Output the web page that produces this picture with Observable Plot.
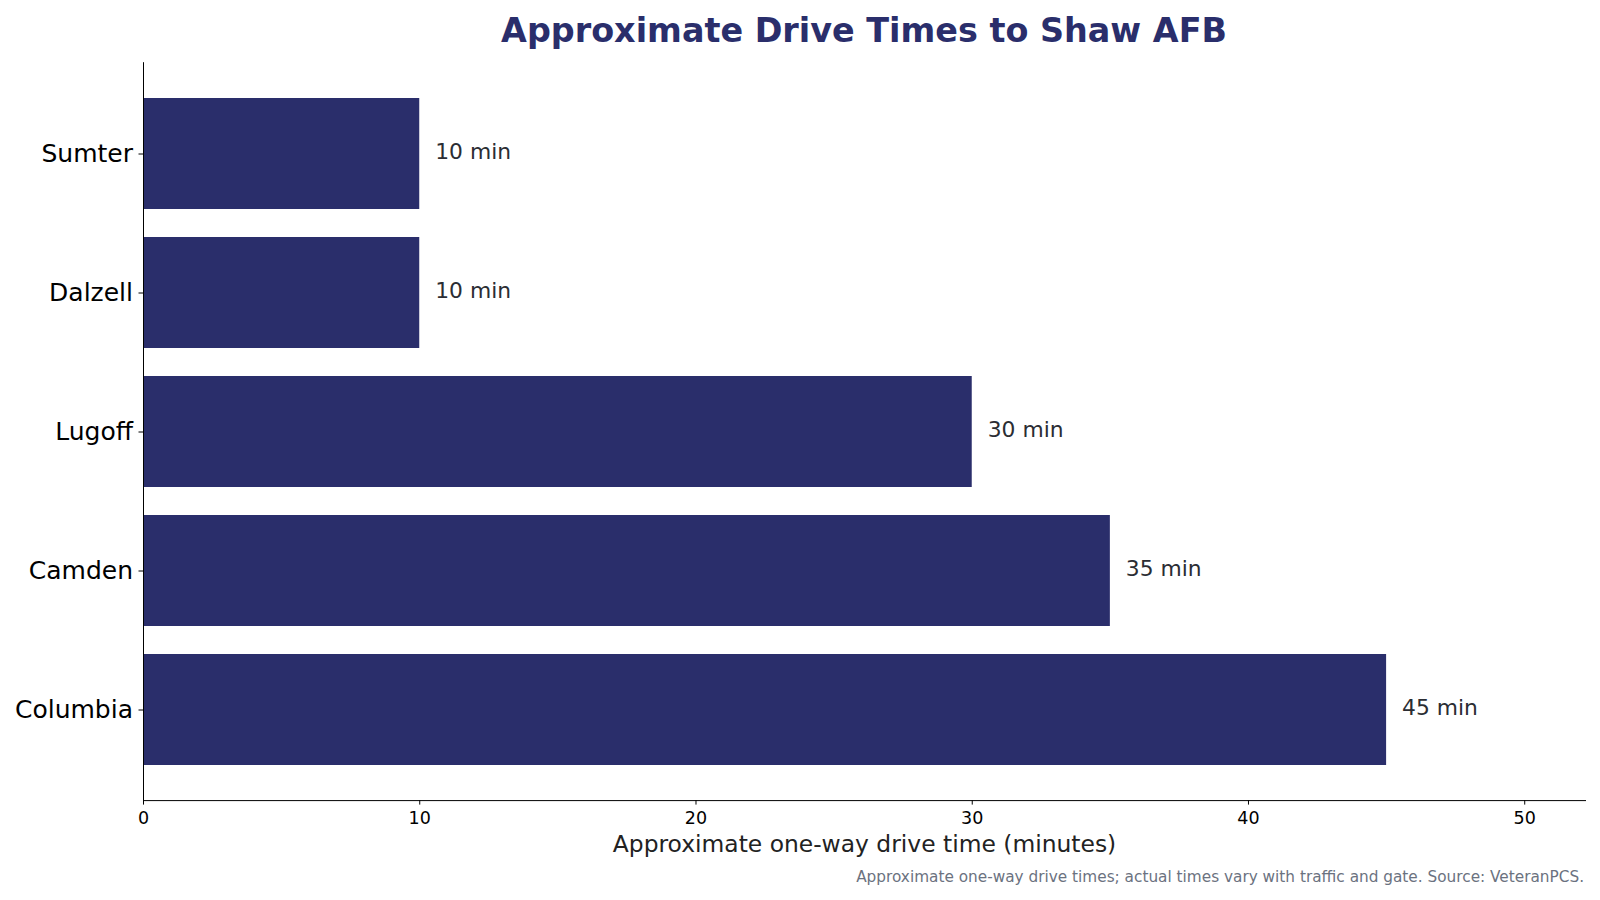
<!DOCTYPE html>
<html>
<head>
<meta charset="utf-8">
<script src="https://cdn.jsdelivr.net/npm/d3@7"></script>
<script src="https://cdn.jsdelivr.net/npm/@observablehq/plot@0.6"></script>
<style>
  html, body { margin: 0; padding: 0; background: #fff; }
  body { width: 1600px; height: 900px; overflow: hidden; font-family: "DejaVu Sans", sans-serif; }
  #title { height: 50px; box-sizing: border-box; padding-top: 11px; width: 1728px; text-align: center;
           font-size: 33.4px; font-weight: bold; color: #2a2e6b; line-height: normal; white-space: nowrap; }
  #chart { height: 818px; }
  #caption { height: 32px; box-sizing: border-box; width: 1600px; padding-right: 16px; text-align: right;
             font-size: 15.3px; color: #6b7280; line-height: normal; white-space: nowrap; }
</style>
</head>
<body>
<div id="title">Approximate Drive Times to Shaw AFB</div>
<div id="chart"></div>
<div id="caption">Approximate one-way drive times; actual times vary with traffic and gate. Source: VeteranPCS.</div>
<script>
const cities = ["Sumter", "Dalzell", "Lugoff", "Camden", "Columbia"];
const minutes = [10, 10, 30, 35, 45];
const xTicks = [0, 10, 20, 30, 40, 50];
const xLabel = "Approximate one-way drive time (minutes)";

const data = cities.map((c, i) => ({city: c, time: minutes[i]}));
const barColor = "#2a2e6b";

const plot = Plot.plot({
  width: 1600,
  height: 818,
  marginTop: 12.2,
  marginBottom: 67.9,
  marginLeft: 143,
  marginRight: 15,
  style: {fontFamily: "DejaVu Sans, sans-serif", background: "#fff", color: "#000"},
  x: {domain: [0, 52.2], ticks: xTicks},
  y: {domain: cities, paddingInner: 0.2, paddingOuter: 0.252},
  marks: [
    Plot.barX(data, {x: "time", y: "city", fill: barColor}),
    Plot.text(data, {x: "time", y: "city", text: d => `${d.time} min`, dx: 15.5, dy: -1.5, textAnchor: "start",
                     fontSize: 21.8, fill: "#2b2d33"}),
    Plot.frame({anchor: "left", stroke: "#000", strokeWidth: 1}),
    Plot.frame({anchor: "bottom", stroke: "#000", strokeWidth: 1}),
    Plot.axisY({fontSize: 25, tickSize: 4.5, tickPadding: 6, label: null, fill: "#000", stroke: "#000"}),
    Plot.axisX({ticks: xTicks, fontSize: 17.5, tickSize: 4.5, tickPadding: 6.5, label: null, fill: "#000", stroke: "#000"}),
    Plot.text([xLabel], {frameAnchor: "bottom", dy: 51.5, fontSize: 23.4, fill: "#222"})
  ]
});
document.getElementById("chart").appendChild(plot);
</script>
</body>
</html>
